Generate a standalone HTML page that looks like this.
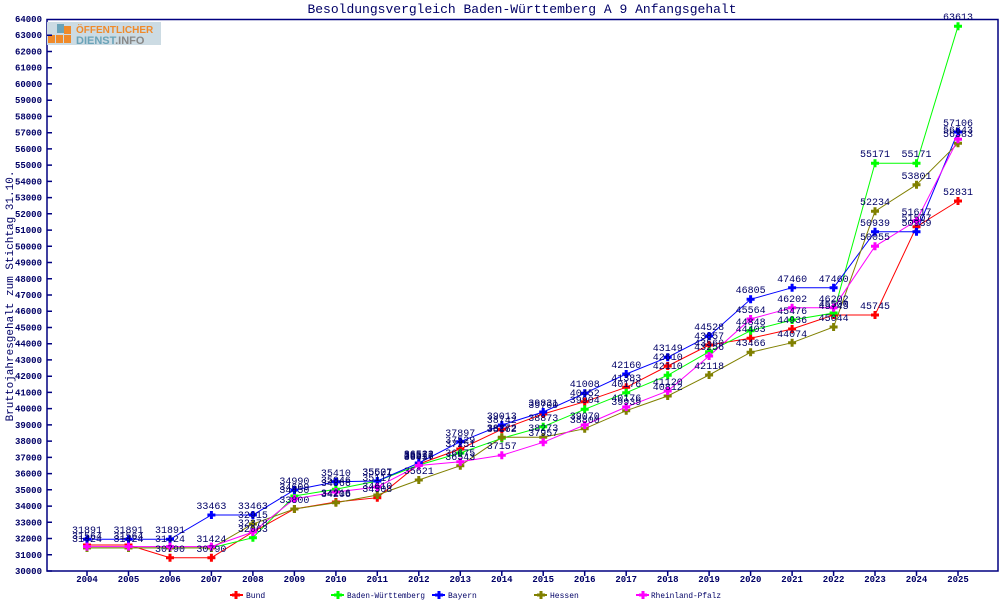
<!DOCTYPE html>
<html><head><meta charset="utf-8"><style>
body{margin:0;background:#fff}
svg{display:block}
text{font-family:"Liberation Mono","DejaVu Sans Mono",monospace;fill:#000066}
.t{font-size:9px;font-weight:bold}
.l{font-size:10px;text-anchor:middle}
</style></head><body>
<svg width="1000" height="600" viewBox="0 0 1000 600" xmlns="http://www.w3.org/2000/svg">
<defs><path id="m" d="M-1.5-4h3v2.5h2.5v3h-2.5v2.5h-3v-2.5h-2.5v-3h2.5z"/></defs>
<text x="522" y="13" style="font-size:13px" text-anchor="middle">Besoldungsvergleich Baden-Württemberg A 9 Anfangsgehalt</text>
<text transform="translate(13,296) rotate(-90)" style="font-size:11px" text-anchor="middle">Bruttojahresgehalt zum Stichtag 31.10.</text>
<rect x="47" y="19.5" width="951" height="551.5" fill="none" stroke="#000080" stroke-width="1.5"/>
<g>
<rect x="47" y="22" width="114" height="23" fill="#ccdbe3"/>
<rect x="48" y="35" width="7" height="8" fill="#f08a2a"/><rect x="56" y="35" width="7" height="8" fill="#f08a2a"/><rect x="64" y="35" width="7" height="8" fill="#f08a2a"/>
<rect x="64" y="26" width="7" height="8" fill="#f08a2a"/><rect x="57" y="24" width="7" height="9" fill="#6aa3b8"/>
<text x="76" y="33" style="font-family:'Liberation Sans',sans-serif;font-size:10px;font-weight:bold;fill:#f08a2a">ÖFFENTLICHER</text>
<text x="76" y="44" style="font-family:'Liberation Sans',sans-serif;font-size:11px;font-weight:bold;fill:#6aa3b8">DIENST<tspan style="fill:#888">.INFO</tspan></text>
</g>
<g stroke="#000080" stroke-width="1.5" fill="none">
<path d="M47 571h5M47 554.8h5M47 538.5h5M47 522.3h5M47 506.1h5M47 489.8h5M47 473.6h5M47 457.4h5M47 441.1h5M47 424.9h5M47 408.6h5M47 392.4h5M47 376.2h5M47 359.9h5M47 343.7h5M47 327.5h5M47 311.2h5M47 295h5M47 278.8h5M47 262.5h5M47 246.3h5M47 230.1h5M47 213.8h5M47 197.6h5M47 181.4h5M47 165.1h5M47 148.9h5M47 132.7h5M47 116.4h5M47 100.2h5M47 83.9h5M47 67.7h5M47 51.5h5M47 35.2h5"/>
<path d="M87 571v5M128.5 571v5M170 571v5M211.4 571v5M252.9 571v5M294.4 571v5M335.9 571v5M377.3 571v5M418.8 571v5M460.3 571v5M501.8 571v5M543.2 571v5M584.7 571v5M626.2 571v5M667.7 571v5M709.1 571v5M750.6 571v5M792.1 571v5M833.6 571v5M875 571v5M916.5 571v5M958 571v5"/>
</g>
<g class="t" text-anchor="end">
<text x="42" y="574">30000</text><text x="42" y="557.8">31000</text><text x="42" y="541.5">32000</text><text x="42" y="525.3">33000</text><text x="42" y="509.1">34000</text><text x="42" y="492.8">35000</text><text x="42" y="476.6">36000</text><text x="42" y="460.4">37000</text><text x="42" y="444.1">38000</text><text x="42" y="427.9">39000</text><text x="42" y="411.6">40000</text><text x="42" y="395.4">41000</text><text x="42" y="379.2">42000</text><text x="42" y="362.9">43000</text><text x="42" y="346.7">44000</text><text x="42" y="330.5">45000</text><text x="42" y="314.2">46000</text><text x="42" y="298">47000</text><text x="42" y="281.8">48000</text><text x="42" y="265.5">49000</text><text x="42" y="249.3">50000</text><text x="42" y="233.1">51000</text><text x="42" y="216.8">52000</text><text x="42" y="200.6">53000</text><text x="42" y="184.4">54000</text><text x="42" y="168.1">55000</text><text x="42" y="151.9">56000</text><text x="42" y="135.7">57000</text><text x="42" y="119.4">58000</text><text x="42" y="103.2">59000</text><text x="42" y="86.9">60000</text><text x="42" y="70.7">61000</text><text x="42" y="54.5">62000</text><text x="42" y="38.2">63000</text><text x="42" y="22">64000</text>
</g>
<g class="t" text-anchor="middle">
<text x="87" y="582">2004</text><text x="128.5" y="582">2005</text><text x="170" y="582">2006</text><text x="211.4" y="582">2007</text><text x="252.9" y="582">2008</text><text x="294.4" y="582">2009</text><text x="335.9" y="582">2010</text><text x="377.3" y="582">2011</text><text x="418.8" y="582">2012</text><text x="460.3" y="582">2013</text><text x="501.8" y="582">2014</text><text x="543.2" y="582">2015</text><text x="584.7" y="582">2016</text><text x="626.2" y="582">2017</text><text x="667.7" y="582">2018</text><text x="709.1" y="582">2019</text><text x="750.6" y="582">2020</text><text x="792.1" y="582">2021</text><text x="833.6" y="582">2022</text><text x="875" y="582">2023</text><text x="916.5" y="582">2024</text><text x="958" y="582">2025</text>
</g>
<g fill="none" stroke-width="1">
<polyline stroke="#ff0000" points="87,545 128.5,545 170,557.7 211.4,557.7 252.9,532 294.4,509 335.9,502 377.3,497.7 418.8,464 460.3,449 501.8,429.3 543.2,414 584.7,401.7 626.2,387.3 667.7,366 709.1,345 750.6,338.3 792.1,329 833.6,315 875,315 916.5,226.7 958,201"/>
<polyline stroke="#00ff00" points="87,547.9 128.5,547.9 170,547.9 211.4,547.9 252.9,537.7 294.4,496 335.9,489.3 377.3,481 418.8,465 460.3,453 501.8,438.3 543.2,426.7 584.7,409.3 626.2,392.7 667.7,375.3 709.1,351.7 750.6,330.7 792.1,320 833.6,313 875,163.3 916.5,163.3 958,26.3"/>
<polyline stroke="#0000ff" points="87,539.3 128.5,539.3 170,539.3 211.4,515 252.9,515 294.4,490 335.9,481.7 377.3,481 418.8,463 460.3,441.7 501.8,425 543.2,412 584.7,393.3 626.2,374 667.7,357.3 709.1,336 750.6,299.3 792.1,287.7 833.6,287.7 875,231.7 916.5,231.7 958,132"/>
<polyline stroke="#808000" points="87,547.9 128.5,547.9 170,547.9 211.4,547.9 252.9,524 294.4,509 335.9,502.7 377.3,495 418.8,480 460.3,465.7 501.8,437.3 543.2,437.3 584.7,428.7 626.2,410.7 667.7,396 709.1,375 750.6,352.3 792.1,342.7 833.6,327 875,211.3 916.5,184.7 958,143.3"/>
<polyline stroke="#ff00ff" points="87,546.6 128.5,546.6 170,546.6 211.4,546.6 252.9,532 294.4,498.8 335.9,492 377.3,487 418.8,465.5 460.3,461.7 501.8,455.3 543.2,442.3 584.7,425 626.2,407 667.7,391 709.1,356 750.6,319 792.1,307.7 833.6,307.7 875,246.3 916.5,220.7 958,139.3"/>
</g>
<g fill="#ff0000"><use href="#m" x="87" y="545"/><use href="#m" x="128.5" y="545"/><use href="#m" x="170" y="557.7"/><use href="#m" x="211.4" y="557.7"/><use href="#m" x="252.9" y="532"/><use href="#m" x="294.4" y="509"/><use href="#m" x="335.9" y="502"/><use href="#m" x="377.3" y="497.7"/><use href="#m" x="418.8" y="464"/><use href="#m" x="460.3" y="449"/><use href="#m" x="501.8" y="429.3"/><use href="#m" x="543.2" y="414"/><use href="#m" x="584.7" y="401.7"/><use href="#m" x="626.2" y="387.3"/><use href="#m" x="667.7" y="366"/><use href="#m" x="709.1" y="345"/><use href="#m" x="750.6" y="338.3"/><use href="#m" x="792.1" y="329"/><use href="#m" x="833.6" y="315"/><use href="#m" x="875" y="315"/><use href="#m" x="916.5" y="226.7"/><use href="#m" x="958" y="201"/></g>
<g fill="#00ff00"><use href="#m" x="87" y="547.9"/><use href="#m" x="128.5" y="547.9"/><use href="#m" x="170" y="547.9"/><use href="#m" x="211.4" y="547.9"/><use href="#m" x="252.9" y="537.7"/><use href="#m" x="294.4" y="496"/><use href="#m" x="335.9" y="489.3"/><use href="#m" x="377.3" y="481"/><use href="#m" x="418.8" y="465"/><use href="#m" x="460.3" y="453"/><use href="#m" x="501.8" y="438.3"/><use href="#m" x="543.2" y="426.7"/><use href="#m" x="584.7" y="409.3"/><use href="#m" x="626.2" y="392.7"/><use href="#m" x="667.7" y="375.3"/><use href="#m" x="709.1" y="351.7"/><use href="#m" x="750.6" y="330.7"/><use href="#m" x="792.1" y="320"/><use href="#m" x="833.6" y="313"/><use href="#m" x="875" y="163.3"/><use href="#m" x="916.5" y="163.3"/><use href="#m" x="958" y="26.3"/></g>
<g fill="#0000ff"><use href="#m" x="87" y="539.3"/><use href="#m" x="128.5" y="539.3"/><use href="#m" x="170" y="539.3"/><use href="#m" x="211.4" y="515"/><use href="#m" x="252.9" y="515"/><use href="#m" x="294.4" y="490"/><use href="#m" x="335.9" y="481.7"/><use href="#m" x="377.3" y="481"/><use href="#m" x="418.8" y="463"/><use href="#m" x="460.3" y="441.7"/><use href="#m" x="501.8" y="425"/><use href="#m" x="543.2" y="412"/><use href="#m" x="584.7" y="393.3"/><use href="#m" x="626.2" y="374"/><use href="#m" x="667.7" y="357.3"/><use href="#m" x="709.1" y="336"/><use href="#m" x="750.6" y="299.3"/><use href="#m" x="792.1" y="287.7"/><use href="#m" x="833.6" y="287.7"/><use href="#m" x="875" y="231.7"/><use href="#m" x="916.5" y="231.7"/><use href="#m" x="958" y="132"/></g>
<g fill="#808000"><use href="#m" x="87" y="547.9"/><use href="#m" x="128.5" y="547.9"/><use href="#m" x="170" y="547.9"/><use href="#m" x="211.4" y="547.9"/><use href="#m" x="252.9" y="524"/><use href="#m" x="294.4" y="509"/><use href="#m" x="335.9" y="502.7"/><use href="#m" x="377.3" y="495"/><use href="#m" x="418.8" y="480"/><use href="#m" x="460.3" y="465.7"/><use href="#m" x="501.8" y="437.3"/><use href="#m" x="543.2" y="437.3"/><use href="#m" x="584.7" y="428.7"/><use href="#m" x="626.2" y="410.7"/><use href="#m" x="667.7" y="396"/><use href="#m" x="709.1" y="375"/><use href="#m" x="750.6" y="352.3"/><use href="#m" x="792.1" y="342.7"/><use href="#m" x="833.6" y="327"/><use href="#m" x="875" y="211.3"/><use href="#m" x="916.5" y="184.7"/><use href="#m" x="958" y="143.3"/></g>
<g fill="#ff00ff"><use href="#m" x="87" y="546.6"/><use href="#m" x="128.5" y="546.6"/><use href="#m" x="170" y="546.6"/><use href="#m" x="211.4" y="546.6"/><use href="#m" x="252.9" y="532"/><use href="#m" x="294.4" y="498.8"/><use href="#m" x="335.9" y="492"/><use href="#m" x="377.3" y="487"/><use href="#m" x="418.8" y="465.5"/><use href="#m" x="460.3" y="461.7"/><use href="#m" x="501.8" y="455.3"/><use href="#m" x="543.2" y="442.3"/><use href="#m" x="584.7" y="425"/><use href="#m" x="626.2" y="407"/><use href="#m" x="667.7" y="391"/><use href="#m" x="709.1" y="356"/><use href="#m" x="750.6" y="319"/><use href="#m" x="792.1" y="307.7"/><use href="#m" x="833.6" y="307.7"/><use href="#m" x="875" y="246.3"/><use href="#m" x="916.5" y="220.7"/><use href="#m" x="958" y="139.3"/></g>
<g class="l">
<text x="87" y="539">31564</text><text x="128.5" y="539">31564</text><text x="170" y="552">30790</text><text x="211.4" y="552">30790</text><text x="252.9" y="526">32378</text><text x="294.4" y="503">33800</text><text x="335.9" y="496">34216</text><text x="377.3" y="492">34508</text><text x="418.8" y="458">36577</text><text x="460.3" y="443">37529</text><text x="501.8" y="423">38742</text><text x="543.2" y="408">39700</text><text x="584.7" y="396">40452</text><text x="626.2" y="381">41383</text><text x="667.7" y="360">42610</text><text x="709.1" y="339">43857</text><text x="750.6" y="332">44403</text><text x="792.1" y="323">44936</text><text x="833.6" y="309">45745</text><text x="875" y="309">45745</text><text x="916.5" y="221">51507</text><text x="958" y="195">52831</text>
<text x="87" y="542">31424</text><text x="128.5" y="542">31424</text><text x="170" y="542">31424</text><text x="211.4" y="542">31424</text><text x="252.9" y="532">32063</text><text x="294.4" y="490">34609</text><text x="335.9" y="483">35046</text><text x="377.3" y="475">35501</text><text x="418.8" y="459">36516</text><text x="460.3" y="447">37251</text><text x="501.8" y="432">38162</text><text x="543.2" y="421">38873</text><text x="584.7" y="403">39904</text><text x="626.2" y="387">40176</text><text x="667.7" y="369">42110</text><text x="709.1" y="346">43560</text><text x="750.6" y="325">44848</text><text x="792.1" y="314">45476</text><text x="833.6" y="307">45500</text><text x="875" y="157">55171</text><text x="916.5" y="157">55171</text><text x="958" y="20">63613</text>
<text x="87" y="533">31891</text><text x="128.5" y="533">31891</text><text x="170" y="533">31891</text><text x="211.4" y="509">33463</text><text x="252.9" y="509">33463</text><text x="294.4" y="484">34990</text><text x="335.9" y="476">35410</text><text x="377.3" y="475">35627</text><text x="418.8" y="457">36522</text><text x="460.3" y="436">37897</text><text x="501.8" y="419">39013</text><text x="543.2" y="406">39831</text><text x="584.7" y="387">41008</text><text x="626.2" y="368">42160</text><text x="667.7" y="351">43149</text><text x="709.1" y="330">44528</text><text x="750.6" y="293">46805</text><text x="792.1" y="282">47460</text><text x="833.6" y="282">47460</text><text x="875" y="226">50939</text><text x="916.5" y="226">50939</text><text x="958" y="126">57106</text>
<text x="252.9" y="518">32915</text><text x="335.9" y="497">34206</text><text x="377.3" y="489">34610</text><text x="418.8" y="474">35621</text><text x="460.3" y="460">36543</text><text x="501.8" y="431">38272</text><text x="543.2" y="431">38273</text><text x="584.7" y="423">38800</text><text x="626.2" y="405">39939</text><text x="667.7" y="390">40812</text><text x="709.1" y="369">42118</text><text x="750.6" y="346">43466</text><text x="792.1" y="337">44074</text><text x="833.6" y="321">45044</text><text x="875" y="205">52234</text><text x="916.5" y="179">53801</text><text x="958" y="137">56383</text>
<text x="294.4" y="493">34450</text><text x="335.9" y="486">34866</text><text x="377.3" y="481">35117</text><text x="418.8" y="460">36437</text><text x="460.3" y="456">36675</text><text x="501.8" y="449">37157</text><text x="543.2" y="436">37957</text><text x="584.7" y="419">39070</text><text x="626.2" y="401">40176</text><text x="667.7" y="385">41120</text><text x="709.1" y="350">43256</text><text x="750.6" y="313">45564</text><text x="792.1" y="302">46202</text><text x="833.6" y="302">46202</text><text x="875" y="240">50055</text><text x="916.5" y="215">51617</text><text x="958" y="133">56643</text>
</g>
<g style="font-size:8px">
<path d="M230 595h13" stroke="#ff0000" stroke-width="2"/><use href="#m" x="236" y="595" fill="#ff0000"/><text x="246" y="598">Bund</text>
<path d="M331 595h13" stroke="#00ff00" stroke-width="2"/><use href="#m" x="338" y="595" fill="#00ff00"/><text x="347" y="598" textLength="78" lengthAdjust="spacingAndGlyphs">Baden-Württemberg</text>
<path d="M432 595h13" stroke="#0000ff" stroke-width="2"/><use href="#m" x="439" y="595" fill="#0000ff"/><text x="448" y="598">Bayern</text>
<path d="M534 595h13" stroke="#808000" stroke-width="2"/><use href="#m" x="541" y="595" fill="#808000"/><text x="550" y="598">Hessen</text>
<path d="M636 595h13" stroke="#ff00ff" stroke-width="2"/><use href="#m" x="643" y="595" fill="#ff00ff"/><text x="651" y="598" textLength="70" lengthAdjust="spacingAndGlyphs">Rheinland-Pfalz</text>
</g>
</svg>
</body></html>
